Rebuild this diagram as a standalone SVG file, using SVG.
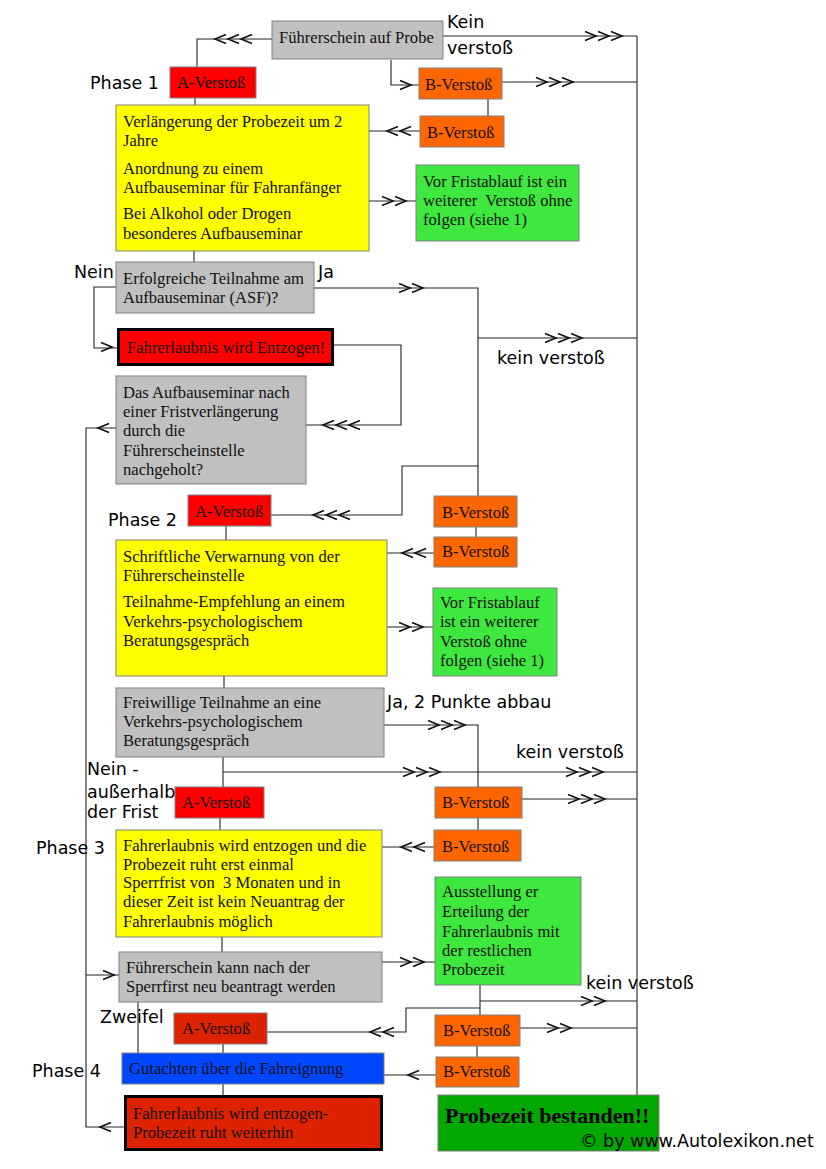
<svg xmlns="http://www.w3.org/2000/svg" xmlns:xlink="http://www.w3.org/1999/xlink" width="826" height="1169" viewBox="0 0 826 1169">
<style>
.bx{stroke:#808080;stroke-width:1}
.gray{fill:#c0c0c0}
.red{fill:#ff0000}
.dred{fill:#dd2200}
.org{fill:#ff6600}
.yel{fill:#ffff00}
.grn{fill:#3ee83e}
.blue{fill:#0047ff}
.ok{fill:#00a800}
.thick{stroke:#000;stroke-width:3}
.t{font-family:"Liberation Serif","Times New Roman",serif;font-size:16.6px;fill:#111}
.lb{font-family:"DejaVu Sans",Verdana,sans-serif;font-size:17.5px;fill:#000}
.big{font-family:"Liberation Serif","Times New Roman",serif;font-size:22px;font-weight:bold;fill:#000}
.ln{fill:none;stroke:#222;stroke-width:1.1}
.ch{fill:none;stroke:#111;stroke-width:1.6}
</style>
<defs>
<path id="r1" d="M-11,-4.5 L0,0 L-11,4.5"/>
<g id="r2"><use xlink:href="#r1"/><use xlink:href="#r1" x="-13"/></g>
<g id="r3"><use xlink:href="#r1"/><use xlink:href="#r1" x="-13"/><use xlink:href="#r1" x="-26"/></g>
<path id="l1" d="M11,-4.5 L0,0 L11,4.5"/>
<g id="l2"><use xlink:href="#l1"/><use xlink:href="#l1" x="13"/></g>
<g id="l3"><use xlink:href="#l1"/><use xlink:href="#l1" x="13"/><use xlink:href="#l1" x="26"/></g>
</defs>
<rect width="826" height="1169" fill="#fff"/>

<g id="connectors">
<path class="ln" d="M637,36 V1095"/>
<path class="ln" d="M443,36 H637"/>
<path class="ln" d="M272,39 H197 V67"/>
<path class="ln" d="M391,60 V85 H419"/>
<path class="ln" d="M502,82 H637"/>
<path class="ln" d="M488,99 V116"/>
<path class="ln" d="M420,131 H369"/>
<path class="ln" d="M195,98 V105"/>
<path class="ln" d="M369,201 H416"/>
<path class="ln" d="M194,251 V262"/>
<path class="ln" d="M314,288 H478 V496"/>
<path class="ln" d="M478,338 H637"/>
<path class="ln" d="M478,466 H402 V515 H271"/>
<path class="ln" d="M116,287 H94 V348 H117"/>
<path class="ln" d="M333,345 H401 V425 H306"/>
<path class="ln" d="M116,428 H86 V1127 H124"/>
<path class="ln" d="M226,526 V540"/>
<path class="ln" d="M476,527 V537"/>
<path class="ln" d="M434,553 H387"/>
<path class="ln" d="M387,627 H433"/>
<path class="ln" d="M224,676 V688"/>
<path class="ln" d="M384,725 H478 V787"/>
<path class="ln" d="M223,757 V787"/>
<path class="ln" d="M223,772 H637"/>
<path class="ln" d="M522,799 H637"/>
<path class="ln" d="M478,818 V830"/>
<path class="ln" d="M434,847 H382"/>
<path class="ln" d="M220,818 V830"/>
<path class="ln" d="M222,937 V952"/>
<path class="ln" d="M382,962 H435"/>
<path class="ln" d="M86,975 H119"/>
<path class="ln" d="M480,985 V1015"/>
<path class="ln" d="M480,1001 H637"/>
<path class="ln" d="M480,1008 H406 V1032 H267"/>
<path class="ln" d="M520,1028 H637"/>
<path class="ln" d="M477,1046 V1057"/>
<path class="ln" d="M436,1075 H384"/>
<path class="ln" d="M138,1002 V1053"/>
<path class="ln" d="M223,1044 V1053"/>
<path class="ln" d="M223,1084 V1095"/>
<g class="ch">
<use xlink:href="#r3" x="622" y="36"/>
<use xlink:href="#l3" x="215" y="39"/>
<use xlink:href="#r1" x="411" y="85"/>
<use xlink:href="#r3" x="573" y="82"/>
<use xlink:href="#l2" x="387" y="131"/>
<use xlink:href="#r2" x="406" y="201"/>
<use xlink:href="#r2" x="423" y="288"/>
<use xlink:href="#r1" x="112" y="347"/>
<use xlink:href="#r3" x="582" y="338"/>
<use xlink:href="#l3" x="323" y="425"/>
<use xlink:href="#l1" x="98" y="428"/>
<use xlink:href="#l3" x="313" y="515"/>
<use xlink:href="#l2" x="402" y="553"/>
<use xlink:href="#r2" x="423" y="627"/>
<use xlink:href="#r3" x="465" y="725"/>
<use xlink:href="#r3" x="440" y="772"/>
<use xlink:href="#r3" x="603" y="772"/>
<use xlink:href="#r3" x="605" y="799"/>
<use xlink:href="#l2" x="401" y="847"/>
<use xlink:href="#r2" x="424" y="962"/>
<use xlink:href="#r1" x="114" y="975"/>
<use xlink:href="#r2" x="605" y="1001"/>
<use xlink:href="#l2" x="370" y="1032"/>
<use xlink:href="#r2" x="571" y="1028"/>
<use xlink:href="#l1" x="408" y="1075"/>
<use xlink:href="#l1" x="100" y="1127"/>
</g>
</g>

<g id="n-probe"><rect class="bx gray" x="272" y="21" width="171" height="38"/><text class="t" x="279" y="43">Führerschein auf Probe</text></g>
<g id="n-a1"><rect class="bx red" x="170" y="67" width="86" height="31"/><text class="t" x="177" y="88">A-Verstoß</text></g>
<g id="n-b1"><rect class="bx org" x="419" y="68" width="83" height="31"/><text class="t" x="425" y="90">B-Verstoß</text></g>
<g id="n-b2"><rect class="bx org" x="420" y="116" width="84" height="31"/><text class="t" x="427" y="138">B-Verstoß</text></g>
<g id="n-y1"><rect class="bx yel" x="116" y="105" width="253" height="146"/>
<text class="t" x="123" y="127">Verlängerung der Probezeit um 2</text>
<text class="t" x="123" y="146">Jahre</text>
<text class="t" x="123" y="174">Anordnung zu einem</text>
<text class="t" x="123" y="193">Aufbauseminar für Fahranfänger</text>
<text class="t" x="123" y="219">Bei Alkohol oder Drogen</text>
<text class="t" x="123" y="239">besonderes Aufbauseminar</text></g>
<g id="n-g1"><rect class="bx grn" x="416" y="165" width="163" height="76"/>
<text class="t" x="423" y="187">Vor Fristablauf ist ein</text>
<text class="t" x="423" y="206" xml:space="preserve">weiterer  Verstoß ohne</text>
<text class="t" x="423" y="225">folgen (siehe 1)</text></g>
<g id="n-asf"><rect class="bx gray" x="116" y="262" width="198" height="51"/>
<text class="t" x="123" y="284">Erfolgreiche Teilnahme am</text>
<text class="t" x="123" y="303">Aufbauseminar (ASF)?</text></g>
<g id="n-entz1"><rect class="thick red" x="118.5" y="329.5" width="214" height="35"/>
<text class="t" x="127" y="353">Fahrerlaubnis wird Entzogen!</text></g>
<g id="n-nach"><rect class="bx gray" x="116" y="376" width="190" height="108"/>
<text class="t" x="123" y="398">Das Aufbauseminar nach</text>
<text class="t" x="123" y="417">einer Fristverlängerung</text>
<text class="t" x="123" y="436">durch die</text>
<text class="t" x="123" y="456">Führerscheinstelle</text>
<text class="t" x="123" y="475">nachgeholt?</text></g>
<g id="n-a2"><rect class="bx red" x="188" y="495" width="83" height="31"/><text class="t" x="195" y="517">A-Verstoß</text></g>
<g id="n-b3"><rect class="bx org" x="434" y="496" width="83" height="31"/><text class="t" x="442" y="518">B-Verstoß</text></g>
<g id="n-b4"><rect class="bx org" x="434" y="537" width="83" height="30"/><text class="t" x="442" y="557">B-Verstoß</text></g>
<g id="n-y2"><rect class="bx yel" x="116" y="540" width="271" height="136"/>
<text class="t" x="123" y="562">Schriftliche Verwarnung von der</text>
<text class="t" x="123" y="581">Führerscheinstelle</text>
<text class="t" x="123" y="607">Teilnahme-Empfehlung an einem</text>
<text class="t" x="123" y="627">Verkehrs-psychologischem</text>
<text class="t" x="123" y="646">Beratungsgespräch</text></g>
<g id="n-g2"><rect class="bx grn" x="433" y="588" width="124" height="88"/>
<text class="t" x="440" y="608">Vor Fristablauf</text>
<text class="t" x="440" y="627">ist ein weiterer</text>
<text class="t" x="440" y="647">Verstoß ohne</text>
<text class="t" x="440" y="666">folgen (siehe 1)</text></g>
<g id="n-frei"><rect class="bx gray" x="116" y="688" width="268" height="69"/>
<text class="t" x="123" y="708">Freiwillige Teilnahme an eine</text>
<text class="t" x="123" y="727">Verkehrs-psychologischem</text>
<text class="t" x="123" y="746">Beratungsgespräch</text></g>
<g id="n-a3"><rect class="bx red" x="175" y="787" width="89" height="31"/><text class="t" x="182" y="808">A-Verstoß</text></g>
<g id="n-b5"><rect class="bx org" x="435" y="787" width="87" height="31"/><text class="t" x="442" y="808">B-Verstoß</text></g>
<g id="n-b6"><rect class="bx org" x="434" y="830" width="87" height="31"/><text class="t" x="442" y="852">B-Verstoß</text></g>
<g id="n-y3"><rect class="bx yel" x="116" y="830" width="266" height="107"/>
<text class="t" x="123" y="851">Fahrerlaubnis wird entzogen und die</text>
<text class="t" x="123" y="870">Probezeit ruht erst einmal</text>
<text class="t" x="123" y="888" xml:space="preserve">Sperrfrist von  3 Monaten und in</text>
<text class="t" x="123" y="907">dieser Zeit ist kein Neuantrag der</text>
<text class="t" x="123" y="927">Fahrerlaubnis möglich</text></g>
<g id="n-g3"><rect class="bx grn" x="435" y="877" width="146" height="108"/>
<text class="t" x="442" y="897">Ausstellung er</text>
<text class="t" x="442" y="917">Erteilung der</text>
<text class="t" x="442" y="937">Fahrerlaubnis mit</text>
<text class="t" x="442" y="956">der restlichen</text>
<text class="t" x="442" y="975">Probezeit</text></g>
<g id="n-neu"><rect class="bx gray" x="119" y="952" width="263" height="50"/>
<text class="t" x="126" y="973">Führerschein kann nach der</text>
<text class="t" x="126" y="992">Sperrfirst neu beantragt werden</text></g>
<g id="n-a4"><rect class="bx dred" x="174" y="1013" width="93" height="31"/><text class="t" x="182" y="1034">A-Verstoß</text></g>
<g id="n-b7"><rect class="bx org" x="435" y="1015" width="85" height="31"/><text class="t" x="443" y="1036">B-Verstoß</text></g>
<g id="n-b8"><rect class="bx org" x="436" y="1057" width="83" height="30"/><text class="t" x="443" y="1077">B-Verstoß</text></g>
<g id="n-gut"><rect class="bx blue" x="122" y="1053" width="262" height="31"/><text class="t" x="129" y="1074">Gutachten über die Fahreignung</text></g>
<g id="n-entz2"><rect class="thick dred" x="125.5" y="1096.5" width="256" height="53"/>
<text class="t" x="133" y="1119">Fahrerlaubnis wird entzogen-</text>
<text class="t" x="133" y="1138">Probezeit ruht weiterhin</text></g>
<g id="n-ok"><rect class="bx ok" x="438" y="1095" width="221" height="56"/>
<text class="big" x="445" y="1123">Probezeit bestanden!!</text></g>

<g id="labels">
<text class="lb" x="447" y="28">Kein</text>
<text class="lb" x="447" y="54">verstoß</text>
<text class="lb" x="90" y="89">Phase 1</text>
<text class="lb" x="74" y="278">Nein</text>
<text class="lb" x="318" y="278">Ja</text>
<text class="lb" x="497" y="364">kein verstoß</text>
<text class="lb" x="108" y="526">Phase 2</text>
<text class="lb" x="387" y="708">Ja, 2 Punkte abbau</text>
<text class="lb" x="516" y="758">kein verstoß</text>
<text class="lb" x="87" y="775">Nein -</text>
<text class="lb" x="87" y="798">außerhalb</text>
<text class="lb" x="87" y="818">der Frist</text>
<text class="lb" x="36" y="854">Phase 3</text>
<text class="lb" x="586" y="989">kein verstoß</text>
<text class="lb" x="100" y="1023">Zweifel</text>
<text class="lb" x="32" y="1077">Phase 4</text>
<text class="lb" x="580" y="1147">© by www.Autolexikon.net</text>
</g>
</svg>
